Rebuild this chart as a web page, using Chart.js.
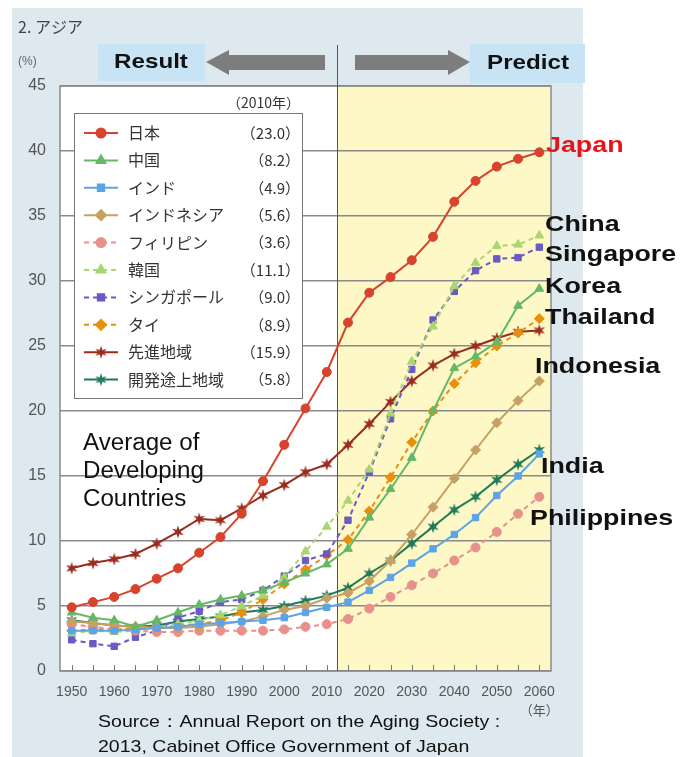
<!DOCTYPE html>
<html>
<head>
<meta charset="utf-8">
<script src="https://cdn.jsdelivr.net/npm/chart.js@4.4.0/dist/chart.umd.min.js"></script>
<style>
  html,body{margin:0;padding:0;background:#fff;}
  canvas{display:block;}
</style>
</head>
<body>
<canvas id="c" width="696" height="757"></canvas>
<script>
// ---------- data (share of population aged 65+, %) ----------
const years = [1950,1955,1960,1965,1970,1975,1980,1985,1990,1995,2000,2005,2010,2015,2020,2025,2030,2035,2040,2045,2050,2055,2060];
const xTicks = [1950,1960,1970,1980,1990,2000,2010,2020,2030,2040,2050,2060];
const yTicks = [0,5,10,15,20,25,30,35,40,45];
const predictFrom = 2012.5;

const japan       = [4.9,5.3,5.7,6.3,7.1,7.9,9.1,10.3,12.1,14.6,17.4,20.2,23.0,26.8,29.1,30.3,31.6,33.4,36.1,37.7,38.8,39.4,39.9];
const china       = [4.5,4.1,3.9,3.4,3.9,4.5,5.1,5.5,5.8,6.2,6.8,7.5,8.2,9.4,11.8,14.0,16.4,20.0,23.3,24.2,25.3,28.1,29.4];
const india       = [3.1,3.1,3.1,3.2,3.3,3.4,3.6,3.7,3.8,3.9,4.1,4.5,4.9,5.3,6.2,7.2,8.3,9.4,10.5,11.8,13.5,15.0,16.7];
const indonesia   = [3.8,3.7,3.5,3.4,3.3,3.3,3.4,3.6,3.8,4.2,4.7,5.0,5.6,6.0,6.9,8.5,10.5,12.6,14.8,17.0,19.1,20.8,22.3];
const philippines = [3.6,3.4,3.2,3.1,3.0,3.0,3.1,3.1,3.1,3.1,3.2,3.4,3.6,4.0,4.8,5.7,6.6,7.5,8.5,9.5,10.7,12.1,13.4];
const korea       = [2.9,3.1,3.0,3.1,3.3,3.6,3.9,4.3,5.0,5.8,7.2,9.2,11.1,13.1,15.5,19.8,23.8,26.5,29.6,31.4,32.7,32.8,33.5];
const singapore   = [2.4,2.1,1.9,2.6,3.1,4.1,4.6,5.3,5.5,6.2,7.3,8.5,9.0,11.6,15.3,19.4,23.2,27.0,29.2,30.8,31.7,31.8,32.6];
const thailand    = [3.1,3.2,3.2,3.3,3.4,3.5,3.6,3.9,4.5,5.5,6.7,7.8,8.9,10.1,12.3,14.9,17.6,20.0,22.1,23.7,25.0,26.0,27.1];
const developed   = [7.9,8.3,8.6,9.0,9.8,10.7,11.7,11.6,12.5,13.5,14.3,15.3,15.9,17.4,19.0,20.7,22.3,23.5,24.4,25.0,25.6,26.1,26.2];
const developing  = [3.9,3.7,3.5,3.4,3.5,3.8,4.0,4.2,4.5,4.7,5.0,5.4,5.8,6.4,7.5,8.5,9.8,11.1,12.4,13.4,14.7,15.9,17.0];

const SANS = "'Liberation Sans', Arial, sans-serif";
const JP = "'Noto Sans CJK JP', 'Noto Sans', sans-serif";

function starImg(color){
  const c = document.createElement('canvas'); c.width = c.height = 14;
  const g = c.getContext('2d'); g.fillStyle = color; g.beginPath();
  for(let i=0;i<12;i++){ const r = i%2 ? 2.6 : 6.6; const a = Math.PI/6*i - Math.PI/2; g.lineTo(7+r*Math.cos(a), 7+r*Math.sin(a)); }
  g.closePath(); g.fill(); return c;
}

const series = [
  {name:'日本',         data:japan,       color:'#d8432e', style:'circle',   r:4.5, dash:[]},
  {name:'中国',         data:china,       color:'#66b866', style:'triangle', r:5,   dash:[]},
  {name:'インド',       data:india,       color:'#5ca4e6', style:'rect',     r:4.5, dash:[]},
  {name:'インドネシア', data:indonesia,   color:'#c9a064', style:'rectRot',  r:5,   dash:[]},
  {name:'フィリピン',   data:philippines, color:'#e8908a', style:'circle',   r:4.5, dash:[5,4]},
  {name:'韓国',         data:korea,       color:'#a8d670', style:'triangle', r:5,   dash:[5,4]},
  {name:'シンガポール', data:singapore,   color:'#6a5ac4', style:'rect',     r:4.5, dash:[5,4]},
  {name:'タイ',         data:thailand,    color:'#e8900e', style:'rectRot',  r:5,   dash:[5,4]},
  {name:'先進地域',     data:developed,   color:'#9a2c1e', style:'star',     r:6,   dash:[]},
  {name:'開発途上地域', data:developing,  color:'#1f7a5a', style:'star',     r:6,   dash:[]},
];

const datasets = series.map(s=>{
  const ps = s.style==='star' ? starImg(s.color) : s.style;
  return {
    label:s.name, data:years.map((x,i)=>({x, y:s.data[i]})),
    borderColor:s.color, backgroundColor:s.color, borderWidth:2, borderDash:s.dash,
    pointStyle:ps, pointRadius:s.r, pointBorderWidth:1, pointBackgroundColor:s.color, pointBorderColor:s.color,
    tension:0, fill:false
  };
});

function txt(ctx, s, x, y, font, color, align, sx){
  ctx.save(); ctx.font=font; ctx.fillStyle=color; ctx.textAlign=align||'left'; ctx.textBaseline='middle';
  ctx.translate(x,y); ctx.scale(sx||1,1); ctx.fillText(s,0,0); ctx.restore();
}

// ---------- decorations ----------
const deco = {
  id:'deco',
  beforeDraw(chart){
    const {ctx, chartArea:a, scales:{x}} = chart;
    ctx.save();
    ctx.fillStyle='#fff'; ctx.fillRect(0,0,chart.width,chart.height);
    ctx.fillStyle='#dde9ef'; ctx.fillRect(12,8,571,749);
    ctx.fillStyle='#fff'; ctx.fillRect(a.left,a.top,a.right-a.left,a.bottom-a.top);
    const xp = x.getPixelForValue(predictFrom);
    ctx.fillStyle='#fdf8c6'; ctx.fillRect(xp,a.top,a.right-xp,a.bottom-a.top);
    ctx.restore();
  },
  beforeDatasetsDraw(chart){
    const {ctx, chartArea:a, scales:{x}} = chart;
    ctx.save();
    // plot frame
    ctx.strokeStyle='#8a8a8a'; ctx.lineWidth=1.5;
    ctx.strokeRect(a.left,a.top,a.right-a.left,a.bottom-a.top);
    // inner ticks every 5 years
    ctx.strokeStyle='#777'; ctx.lineWidth=1;
    years.forEach(v=>{ const p=Math.round(x.getPixelForValue(v))+0.5; ctx.beginPath(); ctx.moveTo(p,a.bottom); ctx.lineTo(p,a.bottom-6); ctx.stroke(); });
    // result / predict divider
    const xp = Math.round(x.getPixelForValue(predictFrom))+0.5;
    ctx.strokeStyle='#555'; ctx.beginPath(); ctx.moveTo(xp,45); ctx.lineTo(xp,a.bottom); ctx.stroke();
    // legend box
    const L=74, T=113, R=302, B=398;
    ctx.fillStyle='#fff'; ctx.fillRect(L,T,R-L,B-T);
    ctx.strokeStyle='#777'; ctx.lineWidth=1; ctx.strokeRect(L+0.5,T+0.5,R-L,B-T);
    txt(ctx,'（2010年）',300,103,'14px '+JP,'#333','right');
    const i2010 = years.indexOf(2010);
    chart.data.datasets.forEach((d,i)=>{
      const y = 133 + i*27.4;
      ctx.strokeStyle=d.borderColor; ctx.fillStyle=d.borderColor; ctx.lineWidth=2;
      ctx.setLineDash(d.borderDash); ctx.beginPath(); ctx.moveTo(84,y); ctx.lineTo(118,y); ctx.stroke(); ctx.setLineDash([]);
      Chart.helpers.drawPoint(ctx,{pointStyle:d.pointStyle,rotation:0,radius:d.pointRadius,borderWidth:1},101,y);
      txt(ctx,d.label,128,y,'16px '+JP,'#333','left');
      txt(ctx,'（'+series[i].data[i2010].toFixed(1)+'）',300,y,'15px '+JP,'#333','right');
    });
    ctx.restore();
  },
  afterDraw(chart){
    const {ctx, scales:{x}} = chart;
    ctx.save();
    txt(ctx,'2. アジア',18,27,'16px '+JP,'#444','left');
    txt(ctx,'(%)',18,62,'12px '+SANS,'#666','left');
    txt(ctx,'（年）',x.getPixelForValue(2060),710,'13px '+JP,'#555','center');
    // header boxes and arrows
    ctx.fillStyle='#c7e3f4'; ctx.fillRect(98,44,107,37); ctx.fillRect(470,44,115,39);
    txt(ctx,'Result',151,62,'bold 21px '+SANS,'#111','center',1.15);
    txt(ctx,'Predict',528,63,'bold 21px '+SANS,'#111','center',1.15);
    ctx.fillStyle='#7d7d7d';
    ctx.beginPath(); ctx.moveTo(206,62); ctx.lineTo(229,50); ctx.lineTo(229,55); ctx.lineTo(325,55); ctx.lineTo(325,70); ctx.lineTo(229,70); ctx.lineTo(229,75); ctx.closePath(); ctx.fill();
    ctx.beginPath(); ctx.moveTo(470,62); ctx.lineTo(448,50); ctx.lineTo(448,55); ctx.lineTo(355,55); ctx.lineTo(355,70); ctx.lineTo(448,70); ctx.lineTo(448,75); ctx.closePath(); ctx.fill();
    // annotations
    ['Average of','Developing','Countries'].forEach((s,i)=>txt(ctx,s,83,444+i*28,'23px '+SANS,'#111','left',1.05));
    const lab = [['Japan',546,146,'#e8141a'],['China',545,225],['Singapore',545,255],['Korea',545,287],['Thailand',545,318],
                 ['Indonesia',535,367],['India',541,467],['Philippines',530,519]];
    lab.forEach(l=>txt(ctx,l[0],l[1],l[2],'bold 22px '+SANS,l[3]||'#111','left',1.22));
    txt(ctx,'Source\uFF1AAnnual Report on the Aging Society :',98,722,'17px '+SANS,'#111','left',1.15);
    txt(ctx,'2013, Cabinet Office Government of Japan',98,747,'17px '+SANS,'#111','left',1.15);
    ctx.restore();
  }
};

new Chart(document.getElementById('c'), {
  type:'line',
  data:{datasets},
  options:{
    responsive:false, animation:false,
    layout:{padding:{top:86,right:145,left:0,bottom:0}},
    plugins:{legend:{display:false}, tooltip:{enabled:false}},
    scales:{
      x:{type:'linear', min:1947.25, max:2062.75,
         afterBuildTicks:s=>{ s.ticks = xTicks.map(v=>({value:v})); },
         afterFit:s=>{ s.height = 86; },
         grid:{display:false}, border:{display:false},
         ticks:{color:'#555', font:{family:SANS,size:14}, padding:5, maxRotation:0, autoSkip:false, callback:v=>String(v)}},
      y:{min:0, max:45,
         afterBuildTicks:s=>{ s.ticks = yTicks.map(v=>({value:v})); },
         afterFit:s=>{ s.width = 60; },
         grid:{color:'#8a8a8a', lineWidth:1.5, drawTicks:false}, border:{display:false},
         ticks:{color:'#555', font:{family:SANS,size:16}, padding:14}}
    }
  },
  plugins:[deco]
});
</script>
</body>
</html>
